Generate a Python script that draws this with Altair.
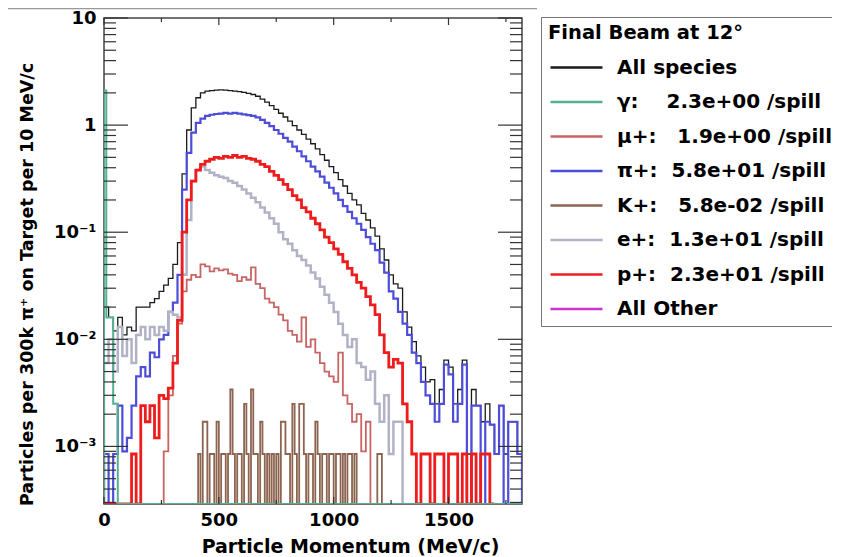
import altair as alt
import pandas as pd

# ---------------- axis ranges ----------------
Y_MIN = 2.9e-4
Y_MAX = 10
X_MAX = 1820
W, H = 418, 486

# ---------------- legend entries ----------------
NB = "\u00a0"
SPECIES = [
    "All species",
    "γ:" + NB * 4 + "2.3e+00 /spill",
    "μ+:" + NB * 3 + "1.9e+00 /spill",
    "π+:" + NB * 2 + "5.8e+01 /spill",
    "K+:" + NB * 3 + "5.8e-02 /spill",
    "e+:" + NB * 2 + "1.3e+01 /spill",
    "p+:" + NB * 2 + "2.3e+01 /spill",
    "All Other",
]
COLORS = ["#1a1a1a", "#55b090", "#c86464", "#4d4dd9", "#8c6450", "#b2b2c6", "#ee1c1c", "#cc33cc"]
WIDTHS = [1.3, 2.0, 1.8, 2.2, 1.8, 2.5, 2.8, 2.0]

# ---------------- histograms (value per bin, 0 = empty bin) ----------------
ALL_START, ALL_BIN = 0, 20
ALL_VALUES = [
    0.02, 0.016, 0.012, 0.016, 0.011, 0.013, 0.012, 0.02, 0.02, 0.02,
    0.022, 0.024, 0.028, 0.032, 0.037, 0.05, 0.08, 0.35, 0.9, 1.45,
    1.8, 2.0, 2.08, 2.1, 2.12, 2.13, 2.12, 2.1, 2.08, 2.05,
    2.02, 1.98, 1.93, 1.86, 1.75, 1.64, 1.52, 1.4, 1.29, 1.19,
    1.09, 0.99, 0.9, 0.82, 0.74, 0.67, 0.6, 0.53, 0.47, 0.41,
    0.36, 0.31, 0.27, 0.23, 0.2, 0.18, 0.15, 0.13, 0.11, 0.092,
    0.07, 0.055, 0.04, 0.033, 0.03, 0.018, 0.013, 0.0095, 0.007, 0.0055,
    0.004, 0.0042, 0.0025, 0.0034, 0.0064, 0.0055, 0.0025, 0.0034, 0.0064, 0.00085,
    0.0034, 0.0024, 0.0017, 0.0025, 0.0016, 0.00085, 0.0024, 0.00085, 0.0017, 0.0017,
    0.00085,
]

GAMMA_EDGES = [0, 10, 40, 60, 1820]
GAMMA_VALUES = [2.1, 0.016, 0.0025, 0]

MU_START, MU_BIN = 0, 20
MU_VALUES = [
    0, 0, 0, 0, 0, 0, 0, 0, 0, 0,
    0, 0, 0, 0.0009, 0.003, 0.007, 0.014, 0.028, 0.036, 0.04,
    0.038, 0.05, 0.048, 0.043, 0.046, 0.044, 0.045, 0.041, 0.04, 0.035,
    0.038, 0.036, 0.047, 0.033, 0.03, 0.024, 0.022, 0.02, 0.017, 0.015,
    0.012, 0.011, 0.0095, 0.016, 0.0085, 0.01, 0.0075, 0.006, 0.005, 0.0045,
    0.004, 0.0075, 0.003, 0.0025, 0.0017, 0.002, 0.0009, 0.0017, 0, 0,
]

PI_START, PI_BIN = 0, 20
PI_VALUES = [
    0.00085, 0, 0.00085, 0.0024, 0.0009, 0.0012, 0.0024, 0.0045, 0.0055, 0.0045,
    0.0075, 0.0068, 0.010, 0.011, 0.018, 0.022, 0.04, 0.25, 0.55, 0.85,
    1.05, 1.15, 1.22, 1.25, 1.27, 1.28, 1.3, 1.28, 1.3, 1.28,
    1.26, 1.24, 1.22, 1.18, 1.12, 1.05, 0.98, 0.9, 0.83, 0.76,
    0.7, 0.63, 0.57, 0.51, 0.46, 0.41, 0.37, 0.33, 0.29, 0.26,
    0.23, 0.2, 0.175, 0.155, 0.135, 0.12, 0.105, 0.09, 0.078, 0.068,
    0.052, 0.042, 0.028, 0.024, 0.018, 0.014, 0.011, 0.0075, 0.006, 0.004,
    0.003, 0.0025, 0.0017, 0.0025, 0.0058, 0.0047, 0.0017, 0.0025, 0.0058, 0,
    0.0024, 0.0024, 0, 0.0017, 0.0016, 0.00085, 0.0024, 0, 0.0017, 0.0017,
    0.00085,
]

K_START, K_BIN = 400, 10
K_VALUES = [
    0, 0.00085, 0, 0.0017, 0.0017, 0, 0.00085, 0.00085, 0, 0.0017,
    0, 0.00085, 0.00085, 0, 0.00085, 0.0034, 0.00085, 0, 0.00085, 0.00085,
    0, 0.0025, 0.00085, 0, 0.0034, 0.00085, 0.00085, 0, 0.0017, 0.00085,
    0, 0.00085, 0, 0.00085, 0, 0.00085, 0, 0.0017, 0.0017, 0.00085,
    0.00085, 0, 0.0025, 0.00085, 0, 0.0025, 0.0025, 0.00085, 0, 0.00085,
    0.00085, 0, 0.0017, 0.00085, 0, 0.00085, 0.00085, 0, 0.00085, 0.00085,
    0, 0.00085, 0.00085, 0, 0.00085, 0, 0.00085, 0.00085, 0, 0.00085,
    0, 0, 0, 0, 0, 0, 0, 0, 0, 0.00085,
    0.00085, 0,
]

E_START, E_BIN = 0, 20
E_VALUES = [
    0.006, 0.01, 0.005, 0.013, 0.007, 0.01, 0.006, 0.011, 0.013, 0.01,
    0.013, 0.011, 0.013, 0.012, 0.018, 0.017, 0.016, 0.04, 0.13, 0.3,
    0.38, 0.41, 0.38, 0.36, 0.34, 0.33, 0.32, 0.3, 0.29, 0.27,
    0.25, 0.23, 0.21, 0.19, 0.17, 0.153, 0.135, 0.12, 0.1, 0.086,
    0.078, 0.068, 0.06, 0.055, 0.049, 0.042, 0.037, 0.031, 0.026, 0.022,
    0.018, 0.014, 0.011, 0.0085, 0.01, 0.006, 0.0055, 0.0042, 0.005, 0.0025,
    0.0017, 0.003, 0.00085, 0.0017, 0.0017, 0,
]

P_START, P_BIN = 0, 20
P_VALUES = [
    0, 0, 0, 0, 0, 0, 0.00085, 0, 0.0024, 0.0017,
    0.0024, 0.0012, 0.003, 0.0028, 0.0035, 0.006, 0.015, 0.1, 0.2, 0.3,
    0.38, 0.43, 0.46, 0.48, 0.5, 0.49, 0.51, 0.5, 0.52, 0.5,
    0.51, 0.49, 0.48, 0.46, 0.43, 0.41, 0.37, 0.34, 0.31, 0.28,
    0.25, 0.22, 0.2, 0.17, 0.155, 0.135, 0.12, 0.105, 0.09, 0.08,
    0.07, 0.062, 0.053, 0.046, 0.04, 0.034, 0.03, 0.025, 0.021, 0.017,
    0.011, 0.0075, 0.0055, 0.0065, 0.006, 0.0025, 0.0017, 0.00085, 0, 0.00085,
    0.00085, 0, 0.00085, 0.00085, 0, 0.00085, 0.00085, 0, 0.00085, 0,
    0.00085, 0, 0.00085, 0.00085, 0,
]

# ---------------- axis tick positions ----------------
Y_MAJOR = [0.001, 0.01, 0.1, 1, 10]
Y_MINOR = [m * 10 ** e for e in range(-4, 1) for m in range(2, 10) if Y_MIN < m * 10 ** e < Y_MAX]
X_MAJOR = [0, 500, 1000, 1500]
X_MINOR = [250, 750, 1250, 1750]


def edges_of(start, width, values):
    return [start + width * i for i in range(len(values) + 1)]


def outline(label, edges, values):
    pts = [(edges[0], Y_MIN)]
    for e, v in zip(edges[:-1], values):
        pts.append((e, v if v > 0 else Y_MIN))
    last = values[-1] if values[-1] > 0 else Y_MIN
    pts.append((edges[-1], last))
    pts.append((edges[-1], Y_MIN))
    return pd.DataFrame({"s": label, "p": [p for p, _ in pts], "v": [v for _, v in pts],
                         "i": list(range(len(pts)))})


series = [
    (0, edges_of(ALL_START, ALL_BIN, ALL_VALUES), ALL_VALUES),
    (2, edges_of(MU_START, MU_BIN, MU_VALUES), MU_VALUES),
    (3, edges_of(PI_START, PI_BIN, PI_VALUES), PI_VALUES),
    (4, edges_of(K_START, K_BIN, K_VALUES), K_VALUES),
    (5, edges_of(E_START, E_BIN, E_VALUES), E_VALUES),
    (6, edges_of(P_START, P_BIN, P_VALUES), P_VALUES),
    (1, GAMMA_EDGES, GAMMA_VALUES),
]

FONT = "DejaVu Sans"

x_scale = alt.Scale(domain=[0, X_MAX], nice=False, zero=False)
y_scale = alt.Scale(type="log", domain=[Y_MIN, Y_MAX], nice=False)

x_axis = alt.Axis(
    values=X_MAJOR, ticks=False, domain=False, grid=False, format="d",
    labelFont=FONT, labelFontWeight="bold", labelFontSize=18, labelColor="black",
    labelPadding=7, labelFlush=False,
    title="Particle Momentum (MeV/c)", titleFont=FONT, titleFontWeight="bold",
    titleFontSize=19, titleColor="black", titleX=246, titleY=42,
    titleAlign="center", titleBaseline="middle",
)
y_axis = alt.Axis(
    values=Y_MAJOR, ticks=False, domain=False, grid=False,
    labelExpr="datum.value < 0.002 ? '10⁻³' : datum.value < 0.02 ? '10⁻²' : "
              "datum.value < 0.2 ? '10⁻¹' : datum.value < 2 ? '1' : '10'",
    labelFont=FONT, labelFontWeight="bold", labelFontSize=18, labelColor="black",
    labelPadding=8, labelFlush=False,
    title="Particles per 300k  π⁺ on Target per 10 MeV/c", titleFont=FONT,
    titleFontWeight="bold", titleFontSize=17.5, titleColor="black",
    titleX=-77, titleY=266, titleAngle=270, titleAlign="center", titleBaseline="middle",
)

legend = alt.Legend(
    title="Final Beam at 12°", orient="none", legendX=437, legendY=-1,
    symbolType="stroke", symbolSize=2704, symbolStrokeWidth=2.5, symbolOffset=1,
    labelFont=FONT, labelFontWeight="bold", labelFontSize=20, labelColor="black",
    labelLimit=600, labelOffset=13,
    titleFont=FONT, titleFontWeight="bold", titleFontSize=19.5, titleColor="black",
    titleLimit=600, titlePadding=14,
    padding=7, rowPadding=14.5, clipHeight=20,
    strokeColor="#777777", fillColor="white",
)

color_enc = alt.Color("s:N", scale=alt.Scale(domain=SPECIES, range=COLORS), legend=legend)

layers = []
for idx, edges, values in series:
    df = outline(SPECIES[idx], edges, values)
    layers.append(
        alt.Chart(df).mark_line(interpolate="step-after", strokeWidth=WIDTHS[idx], clip=True).encode(
            x=alt.X("p:Q", scale=x_scale, axis=x_axis),
            y=alt.Y("v:Q", scale=y_scale, axis=y_axis),
            color=color_enc,
            order=alt.Order("i:Q"),
        )
    )

TICK_COLOR = "#333333"
ymaj = pd.DataFrame({"t": Y_MAJOR})
ymin = pd.DataFrame({"t": Y_MINOR})
xmaj = pd.DataFrame({"t": X_MAJOR})
xmin = pd.DataFrame({"t": X_MINOR})


def yticks(df, x0, x1):
    return alt.Chart(df).mark_rule(color=TICK_COLOR, strokeWidth=1.2).encode(
        y=alt.Y("t:Q", scale=y_scale, axis=y_axis), x=alt.value(x0), x2=alt.value(x1))


def xticks(df, y0, y1):
    return alt.Chart(df).mark_rule(color=TICK_COLOR, strokeWidth=1.2).encode(
        x=alt.X("t:Q", scale=x_scale, axis=x_axis), y=alt.value(y0), y2=alt.value(y1))


ticks = [
    yticks(ymaj, 0, 24), yticks(ymaj, W - 24, W),
    yticks(ymin, 0, 12), yticks(ymin, W - 12, W),
    xticks(xmaj, 0, 7), xticks(xmaj, H - 7, H),
    xticks(xmin, 0, 4), xticks(xmin, H - 4, H),
]

top_line = alt.Chart(pd.DataFrame({"k": [0]})).mark_rule(color="#999999", strokeWidth=1.5).encode(
    x=alt.value(-96), x2=alt.value(433), y=alt.value(-9.5))

chart = alt.layer(*layers, *ticks, top_line).properties(
    width=W, height=H,
    autosize=alt.AutoSizeParams(type="none"),
    padding={"left": 96, "top": 10, "right": 310, "bottom": 58},
).configure_view(stroke="#444444", strokeWidth=1.5)

chart.save("out.html", embed_options={"renderer": "svg", "actions": False})
